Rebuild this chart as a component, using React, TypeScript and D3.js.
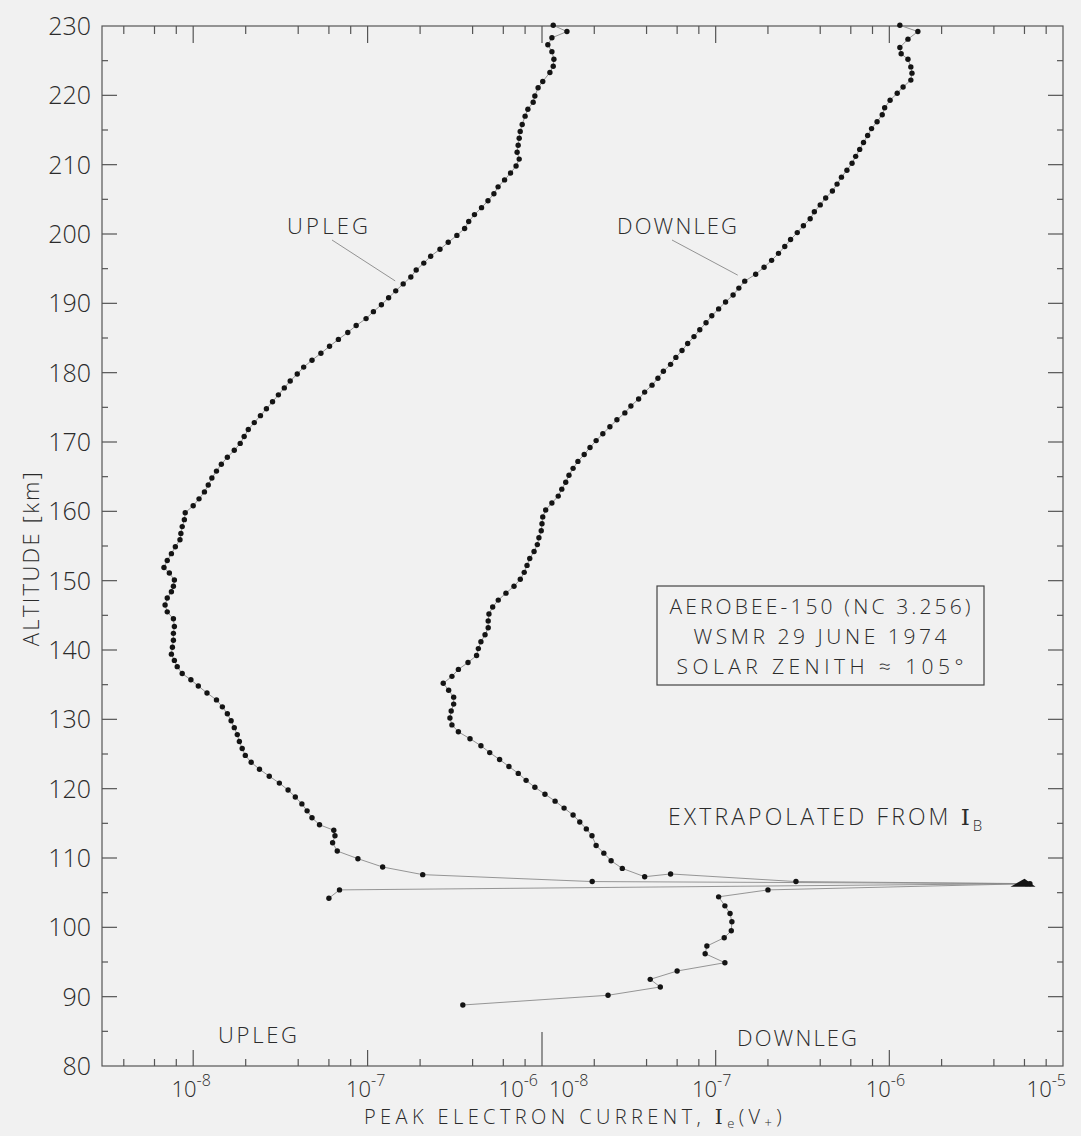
import { useEffect, useRef } from 'react'
import * as d3 from 'd3'

// Upleg profile (read on the left current scale)
const uplegAlt = [
    230.1, 229.2, 228.3, 227.3, 226.3, 225.2, 224.2, 223.3, 222.0, 221.1, 219.9, 219.0, 218.0, 217.0,
    215.8, 214.8, 213.8, 212.8, 211.8, 210.8, 209.8, 208.8, 207.8, 206.8, 205.8, 204.8, 203.8, 202.8,
    201.8, 200.8, 199.8, 198.8, 197.8, 196.8, 195.8, 194.8, 193.8, 192.8, 191.8, 190.8, 189.8, 188.8,
    187.8, 186.8, 185.8, 184.8, 183.8, 182.8, 181.8, 180.8, 179.8, 178.8, 177.8, 176.8, 175.8, 174.8,
    173.8, 172.8, 171.8, 170.8, 169.8, 168.8, 167.8, 166.8, 165.8, 164.8, 163.8, 162.8, 161.8, 160.8,
    159.8, 158.8, 157.8, 156.8, 155.9, 154.9, 153.9, 152.9, 151.9, 151.1, 150.1, 149.2, 148.4, 147.5,
    146.5, 145.5, 144.5, 143.4, 142.4, 141.4, 140.4, 139.4, 138.5, 137.6, 136.6, 135.7, 134.8, 133.8,
    132.8, 131.8, 130.8, 129.8, 128.8, 127.8, 126.8, 125.8, 124.8, 123.8, 122.8, 121.8, 120.8, 119.8,
    118.8, 117.8, 116.8, 115.8, 114.8, 114.0, 113.2, 112.2, 111.0, 109.9, 108.7, 107.6, 106.6, 106.3,
    105.4, 104.2
]
const uplegCurrent = [
    1.16e-6, 1.39e-6, 1.14e-6, 1.08e-6, 1.14e-6, 1.17e-6, 1.16e-6, 1.11e-6, 1.01e-6, 9.5e-7, 9.1e-7, 8.9e-7, 8.3e-7, 8.0e-7,
    7.7e-7, 7.5e-7, 7.4e-7, 7.3e-7, 7.2e-7, 7.4e-7, 7.1e-7, 6.6e-7, 6.1e-7, 5.6e-7, 5.3e-7, 4.9e-7, 4.5e-7, 4.1e-7,
    3.8e-7, 3.6e-7, 3.25e-7, 2.9e-7, 2.6e-7, 2.3e-7, 2.1e-7, 1.9e-7, 1.77e-7, 1.6e-7, 1.45e-7, 1.32e-7, 1.2e-7, 1.08e-7,
    9.8e-8, 8.6e-8, 7.7e-8, 6.8e-8, 6.05e-8, 5.4e-8, 4.8e-8, 4.3e-8, 3.95e-8, 3.6e-8, 3.33e-8, 3.08e-8, 2.85e-8, 2.63e-8,
    2.43e-8, 2.24e-8, 2.07e-8, 1.96e-8, 1.86e-8, 1.72e-8, 1.57e-8, 1.45e-8, 1.36e-8, 1.28e-8, 1.22e-8, 1.16e-8, 1.08e-8, 1.0e-8,
    9.0e-9, 8.9e-9, 8.65e-9, 8.5e-9, 8.4e-9, 7.9e-9, 7.5e-9, 7.1e-9, 6.8e-9, 7.3e-9, 7.8e-9, 7.7e-9, 7.5e-9, 7.1e-9,
    6.9e-9, 7.1e-9, 7.7e-9, 7.8e-9, 7.7e-9, 7.7e-9, 7.6e-9, 7.5e-9, 7.8e-9, 8.1e-9, 8.65e-9, 9.7e-9, 1.07e-8, 1.2e-8,
    1.36e-8, 1.47e-8, 1.57e-8, 1.65e-8, 1.72e-8, 1.79e-8, 1.84e-8, 1.91e-8, 1.99e-8, 2.15e-8, 2.4e-8, 2.73e-8, 3.12e-8, 3.5e-8,
    3.85e-8, 4.2e-8, 4.5e-8, 4.8e-8, 5.3e-8, 6.4e-8, 6.5e-8, 6.3e-8, 6.7e-8, 8.8e-8, 1.22e-7, 2.07e-7, 1.94e-6, 6.0e-4,
    6.9e-8, 6.0e-8
]

// Downleg profile (read on the right current scale)
const downlegAlt = [
    230.1, 229.2, 228.1, 226.9, 226.0, 225.2, 224.1, 223.2, 222.2, 221.2, 220.3, 219.3, 218.2, 217.2,
    216.2, 215.2, 214.2, 213.2, 212.2, 211.2, 210.2, 209.2, 208.2, 207.2, 206.2, 205.2, 204.2, 203.2,
    202.2, 201.2, 200.2, 199.2, 198.2, 197.2, 196.2, 195.2, 194.2, 193.2, 192.2, 191.2, 190.2, 189.2,
    188.2, 187.2, 186.2, 185.2, 184.2, 183.2, 182.2, 181.2, 180.2, 179.2, 178.2, 177.2, 176.2, 175.2,
    174.2, 173.2, 172.2, 171.2, 170.2, 169.2, 168.2, 167.2, 166.2, 165.2, 164.2, 163.2, 162.2, 161.2,
    160.2, 159.2, 158.2, 157.2, 156.2, 155.2, 154.2, 153.2, 152.2, 151.2, 150.2, 149.2, 148.2, 147.2,
    146.2, 145.2, 144.2, 143.2, 142.2, 141.2, 140.2, 139.2, 138.2, 137.2, 136.2, 135.2, 134.2, 133.2,
    132.2, 131.2, 130.2, 129.2, 128.2, 127.2, 126.2, 125.2, 124.2, 123.2, 122.2, 121.2, 120.2, 119.2,
    118.2, 117.2, 116.2, 115.2, 114.2, 113.2, 111.8, 110.7, 109.6, 108.5, 107.3, 107.7, 106.6, 106.3,
    105.4, 104.4, 103.1, 102.0, 100.8, 99.5, 98.5, 97.3, 96.2, 94.9, 93.7, 92.5, 91.4, 90.2, 88.8
]
const downlegCurrent = [
    1.15e-6, 1.46e-6, 1.28e-6, 1.15e-6, 1.17e-6, 1.28e-6, 1.33e-6, 1.35e-6, 1.33e-6, 1.2e-6, 1.11e-6, 1.01e-6, 9.4e-7, 9.1e-7,
    8.5e-7, 7.9e-7, 7.5e-7, 7.1e-7, 6.75e-7, 6.4e-7, 6.1e-7, 5.7e-7, 5.3e-7, 5.0e-7, 4.7e-7, 4.3e-7, 4.0e-7, 3.7e-7,
    3.5e-7, 3.2e-7, 2.95e-7, 2.7e-7, 2.5e-7, 2.3e-7, 2.1e-7, 1.9e-7, 1.7e-7, 1.47e-7, 1.36e-7, 1.26e-7, 1.14e-7, 1.04e-7,
    9.5e-8, 8.8e-8, 8.1e-8, 7.5e-8, 6.9e-8, 6.4e-8, 5.9e-8, 5.5e-8, 5.0e-8, 4.65e-8, 4.3e-8, 3.9e-8, 3.6e-8, 3.25e-8,
    3.0e-8, 2.7e-8, 2.46e-8, 2.24e-8, 2.05e-8, 1.89e-8, 1.75e-8, 1.61e-8, 1.51e-8, 1.43e-8, 1.37e-8, 1.3e-8, 1.24e-8, 1.14e-8,
    1.05e-8, 1.01e-8, 1.0e-8, 9.9e-9, 9.6e-9, 9.4e-9, 9.0e-9, 8.5e-9, 8.2e-9, 7.9e-9, 7.5e-9, 6.9e-9, 6.2e-9, 5.6e-9,
    5.2e-9, 4.95e-9, 4.9e-9, 4.9e-9, 4.7e-9, 4.45e-9, 4.3e-9, 4.2e-9, 3.75e-9, 3.3e-9, 3.03e-9, 2.7e-9, 2.9e-9, 3.1e-9,
    3.1e-9, 3.0e-9, 2.95e-9, 3.03e-9, 3.3e-9, 3.85e-9, 4.45e-9, 5.0e-9, 5.7e-9, 6.45e-9, 7.3e-9, 8.1e-9, 9.1e-9, 1.04e-8,
    1.19e-8, 1.34e-8, 1.51e-8, 1.65e-8, 1.8e-8, 1.94e-8, 2.05e-8, 2.27e-8, 2.5e-8, 2.9e-8, 3.9e-8, 5.5e-8, 2.9e-7, 6.45e-6,
    2.0e-7, 1.04e-7, 1.13e-7, 1.21e-7, 1.24e-7, 1.23e-7, 1.12e-7, 8.9e-8, 8.7e-8, 1.13e-7, 6.0e-8, 4.2e-8, 4.8e-8, 2.4e-8, 3.5e-9
]

const altTicks = [80, 90, 100, 110, 120, 130, 140, 150, 160, 170, 180, 190, 200, 210, 220, 230]
const leftDecades = [1e-8, 1e-7, 1e-6]
const rightDecades = [1e-8, 1e-7, 1e-6, 1e-5]
const infoLines = ['AEROBEE-150 (NC 3.256)', 'WSMR  29 JUNE 1974', 'SOLAR  ZENITH \u2248 105\u00b0']

const FONT = "'Open Sans', 'DejaVu Sans', sans-serif"
const INK = '#2b2b2b'

export default function App() {
    const svgRef = useRef<SVGSVGElement>(null)

    useEffect(() => {
        if (!svgRef.current) return
        document.body.style.margin = '0'

        const width = 1081
        const height = 1136
        const left = 102, right = 1063, top = 26, bottom = 1066, split = 542

        const svg = d3.select(svgRef.current)
        svg.selectAll('*').remove()
        svg.attr('width', width).attr('height', height)

        svg.append('rect').attr('width', width).attr('height', height).attr('fill', '#f1f1f1')

        const y = d3.scaleLinear().domain([80, 230]).range([bottom, top])
        const xL = d3.scaleLog().domain([3e-9, 1e-6]).range([left, split])
        const xR = d3.scaleLog().domain([1e-8, 1e-5]).range([split, right])

        const mant = (v: number) => Math.round(v / Math.pow(10, Math.floor(Math.log10(v) + 1e-9)))

        // frame
        svg.append('rect')
            .attr('x', left).attr('y', top)
            .attr('width', right - left).attr('height', bottom - top)
            .attr('fill', 'none').attr('stroke', '#555').attr('stroke-width', 1.2)

        const axis = svg.append('g').attr('stroke', '#555').attr('stroke-width', 1.2)

        // x ticks, bottom and top, pointing inward
        const xTicks: { x: number; len: number }[] = []
        xL.ticks().filter(v => [1, 2, 4, 6, 8].includes(mant(v)) && v < 1e-6).forEach(v => {
            xTicks.push({ x: xL(v), len: mant(v) === 1 ? 16 : 7 })
        })
        xR.ticks().filter(v => [1, 2, 4, 6, 8].includes(mant(v)) && v > 1e-8 && v < 1e-5).forEach(v => {
            xTicks.push({ x: xR(v), len: mant(v) === 1 ? 16 : 7 })
        })
        xTicks.forEach(t => {
            axis.append('line').attr('x1', t.x).attr('x2', t.x).attr('y1', bottom).attr('y2', bottom - t.len)
            axis.append('line').attr('x1', t.x).attr('x2', t.x).attr('y1', top).attr('y2', top + t.len + 1)
        })
        axis.append('line').attr('x1', split).attr('x2', split).attr('y1', bottom).attr('y2', bottom - 34)
        axis.append('line').attr('x1', split).attr('x2', split).attr('y1', top).attr('y2', top + 17)

        // y ticks on both sides
        d3.range(80, 231, 5).forEach(a => {
            const len = a % 10 === 0 ? 15 : 6
            if (a === 80 || a === 230) return
            axis.append('line').attr('x1', left).attr('x2', left + len).attr('y1', y(a)).attr('y2', y(a))
            axis.append('line').attr('x1', right).attr('x2', right - len).attr('y1', y(a)).attr('y2', y(a))
        })

        const txt = svg.append('g').attr('font-family', FONT).attr('fill', INK).attr('font-weight', 300)

        // y tick labels
        txt.selectAll('.ylab').data(altTicks).enter().append('text')
            .attr('x', left - 11).attr('y', d => y(d) + 9)
            .attr('text-anchor', 'end').attr('font-size', 25)
            .text(d => d)

        // x tick labels: 10 with superscript exponent
        const decadeLabel = (x: number, v: number, anchor: string) => {
            const t = txt.append('text').attr('x', x).attr('y', 1097)
                .attr('text-anchor', anchor).attr('font-size', 22)
            t.append('tspan').text('10')
            t.append('tspan').attr('dy', -11).attr('font-size', 16)
                .text('-' + Math.round(-Math.log10(v)))
        }
        leftDecades.forEach(v => {
            if (v === 1e-6) decadeLabel(xL(v) - 4, v, 'end')
            else decadeLabel(xL(v) - 2, v, 'middle')
        })
        rightDecades.forEach(v => {
            if (v === 1e-8) decadeLabel(xR(v) + 7, v, 'start')
            else if (v === 1e-5) decadeLabel(xR(v) + 3, v, 'end')
            else decadeLabel(xR(v) - 4, v, 'middle')
        })

        // axis titles
        const xt = txt.append('text').attr('x', 364).attr('y', 1124)
            .attr('font-size', 20).attr('letter-spacing', 4.4)
        xt.append('tspan').text('PEAK ELECTRON CURRENT, ')
        xt.append('tspan').attr('font-family', "'DejaVu Serif', serif").text('I')
        xt.append('tspan').attr('dy', 4).attr('font-size', 13).text('e')
        xt.append('tspan').attr('dy', -4).text('(V')
        xt.append('tspan').attr('dy', 3).attr('font-size', 13).text('+')
        xt.append('tspan').attr('dy', -3).text(')')

        txt.append('text')
            .attr('transform', 'translate(39, 558) rotate(-90)')
            .attr('text-anchor', 'middle').attr('font-size', 22).attr('letter-spacing', 2.3)
            .text('ALTITUDE [km]')

        // info box
        svg.append('rect').attr('x', 657).attr('y', 586).attr('width', 327).attr('height', 99)
            .attr('fill', 'none').attr('stroke', '#444').attr('stroke-width', 1.2)
        const lineW = [301, 253, 287]
        infoLines.forEach((s, i) => {
            txt.append('text').attr('x', 820).attr('y', [614, 644, 674][i])
                .attr('text-anchor', 'middle').attr('font-size', 21)
                .attr('textLength', lineW[i]).attr('lengthAdjust', 'spacing')
                .text(s)
        })

        const ex = txt.append('text').attr('x', 668).attr('y', 825)
            .attr('font-size', 23).attr('letter-spacing', 3.1)
        ex.append('tspan').text('EXTRAPOLATED FROM ')
        ex.append('tspan').attr('font-family', "'DejaVu Serif', serif").text('I')
        ex.append('tspan').attr('dy', 6).attr('font-size', 15).text('B')

        const label = (s: string, x: number, yy: number, w: number) =>
            txt.append('text').attr('x', x).attr('y', yy).attr('font-size', 22)
                .attr('textLength', w).attr('lengthAdjust', 'spacing').text(s)
        label('UPLEG', 287, 234, 81)
        label('DOWNLEG', 617, 234, 120)
        label('UPLEG', 218, 1043, 79)
        label('DOWNLEG', 737, 1046, 120)

        // profiles
        const up: [number, number][] = uplegAlt.map((a, i) => [xL(uplegCurrent[i]), y(a)])
        const down: [number, number][] = downlegAlt.map((a, i) => [xR(downlegCurrent[i]), y(a)])

        // leader lines from labels to curves
        const upTip = up[uplegAlt.indexOf(192.8)]
        const downTip = down[downlegAlt.indexOf(193.2)]
        svg.append('line').attr('x1', 332).attr('y1', 240).attr('x2', upTip[0] - 8).attr('y2', upTip[1] - 3)
            .attr('stroke', '#888').attr('stroke-width', 0.9)
        svg.append('line').attr('x1', 672).attr('y1', 240).attr('x2', downTip[0] - 7).attr('y2', downTip[1] - 6)
            .attr('stroke', '#888').attr('stroke-width', 0.9)

        const line = d3.line()
        ;[up, down].forEach(pts => {
            svg.append('path').attr('d', line(pts))
                .attr('fill', 'none').attr('stroke', '#8a8a8a').attr('stroke-width', 0.9)
            svg.append('g').selectAll('circle').data(pts).enter().append('circle')
                .attr('cx', d => d[0]).attr('cy', d => d[1]).attr('r', 2.7)
                .attr('fill', '#141414')
        })

        // dark blob where both profiles peak near 106 km
        const peak = up[uplegCurrent.indexOf(d3.max(uplegCurrent) as number)]
        svg.append('path')
            .attr('d', `M${peak[0] - 16},${peak[1] + 3}L${peak[0] - 2},${peak[1] - 5}L${peak[0] + 9},${peak[1] + 3}Z`)
            .attr('fill', '#141414')
    }, [])

    return <svg ref={svgRef} style={{ display: 'block' }}></svg>
}
